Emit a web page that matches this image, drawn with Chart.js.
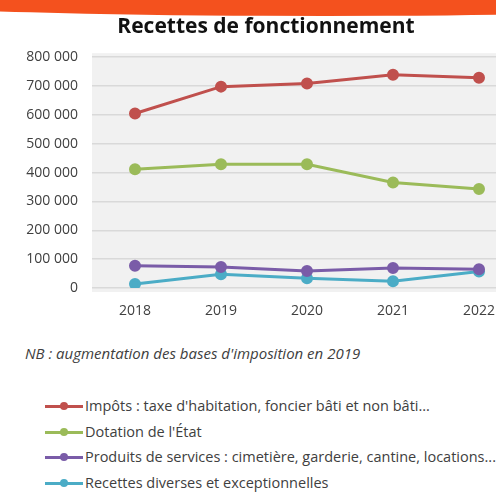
<!DOCTYPE html>
<html>
<head>
<meta charset="utf-8">
<script src="https://cdn.jsdelivr.net/npm/chart.js@4"></script>
<style>
  html, body { margin: 0; padding: 0; background: #fff; overflow: hidden; width: 496px; height: 495px; }
  body { position: relative; font-family: "Open Sans", sans-serif; }
  #swoosh { position: absolute; left: -300px; top: -46px; width: 1250px; height: 62px; border-radius: 50%; background: #f4511e; }
  #wrap { position: absolute; left: 0; top: 0; width: 558px; height: 330px; }
  #note { position: absolute; left: 25px; top: 343px; font-size: 15px; font-style: italic; color: #404040; }
  #legend { position: absolute; left: 45px; top: 393px; font-size: 14.5px; color: #404040; }
  .item { height: 25.7px; line-height: 20px; white-space: nowrap; display: flex; align-items: center; }
  .mark { position: relative; width: 38px; height: 12px; margin-right: 2px; }
  .mark .ln { position: absolute; left: 0; right: 0; top: 5px; height: 3px; }
  .mark .dot { position: absolute; left: 15px; top: 2px; width: 8px; height: 8px; border-radius: 50%; }
</style>
</head>
<body>
<div id="swoosh"></div>
<div id="wrap"><canvas id="chart" width="558" height="330"></canvas></div>
<div id="note">NB : augmentation des bases d'imposition en 2019</div>
<div id="legend"></div>
<script>
let years = ["2018", "2019", "2020", "2021", "2022"];
let impots = [605000, 698000, 709000, 739000, 729000];
let dotation = [412000, 429000, 429000, 366000, 343000];
let produits = [77000, 73000, 59000, 69000, 65000];
let recettes = [14000, 48000, 34000, 23000, 57000];
let seriesNames = [
  "Impôts : taxe d'habitation, foncier bâti et non bâti...",
  "Dotation de l'État",
  "Produits de services : cimetière, garderie, cantine, locations...",
  "Recettes diverses et exceptionnelles"
];
let colors = ["#c0504d", "#9bbb59", "#7a5ca8", "#4bacc6"];
let yTicks = [0, 100000, 200000, 300000, 400000, 500000, 600000, 700000, 800000];

let allSeries = [impots, dotation, produits, recettes];

const plotBg = {
  id: "plotBg",
  beforeDraw(chart) {
    const { ctx, chartArea } = chart;
    ctx.save();
    ctx.fillStyle = "#f1f1f1";
    ctx.fillRect(chartArea.left, chartArea.top - 4, chartArea.right - chartArea.left, chartArea.bottom - chartArea.top + 8);
    ctx.restore();
  }
};

const tickFont = { family: "Open Sans", size: 14 };

const ctx = document.getElementById("chart").getContext("2d");
let myChart = new Chart(ctx, {
  type: "line",
  data: {
    labels: years,
    datasets: allSeries.map((s, i) => ({
      label: seriesNames[i],
      data: s,
      borderColor: colors[i],
      backgroundColor: colors[i],
      borderWidth: 3,
      pointRadius: 4.5,
      pointHoverRadius: 4.5,
      tension: 0,
    })),
  },
  options: {
    responsive: false,
    animation: false,
    layout: { padding: { left: 10, right: 36, top: 0, bottom: 0 } },
    plugins: {
      legend: { display: false },
      tooltip: { enabled: false },
      title: {
        display: true,
        text: "Recettes de fonctionnement",
        color: "#111",
        font: { family: "Open Sans", size: 21, weight: "bold" },
        padding: { top: 14, bottom: 18 },
      },
    },
    scales: {
      x: {
        offset: true,
        grid: { display: false, drawTicks: false },
        border: { display: false },
        ticks: { color: "#404040", font: tickFont, padding: 15, maxRotation: 0 },
        afterFit(axis) { axis.height = 42; },
      },
      y: {
        min: 0,
        max: 800000,
        afterBuildTicks(axis) {
          axis.ticks = yTicks.map((v) => ({ value: v }));
        },
        grid: { color: "#d9d9d9", lineWidth: 1.5, drawTicks: false },
        border: { display: false },
        ticks: {
          color: "#404040",
          font: tickFont,
          padding: 14,
          callback: (v) => v.toString().replace(/\B(?=(\d{3})+(?!\d))/g, " "),
        },
        afterFit(axis) { axis.width = 82; },
      },
    },
  },
  plugins: [plotBg],
});

let legendHtml = "";
for (let i = 0; i < seriesNames.length; i++) {
  legendHtml += `<div class="item"><span class="mark"><span class="ln" style="background:${colors[i]}"></span><span class="dot" style="background:${colors[i]}"></span></span>${seriesNames[i]}</div>`;
}
document.querySelector("#legend").innerHTML = legendHtml;
</script>
</body>
</html>
